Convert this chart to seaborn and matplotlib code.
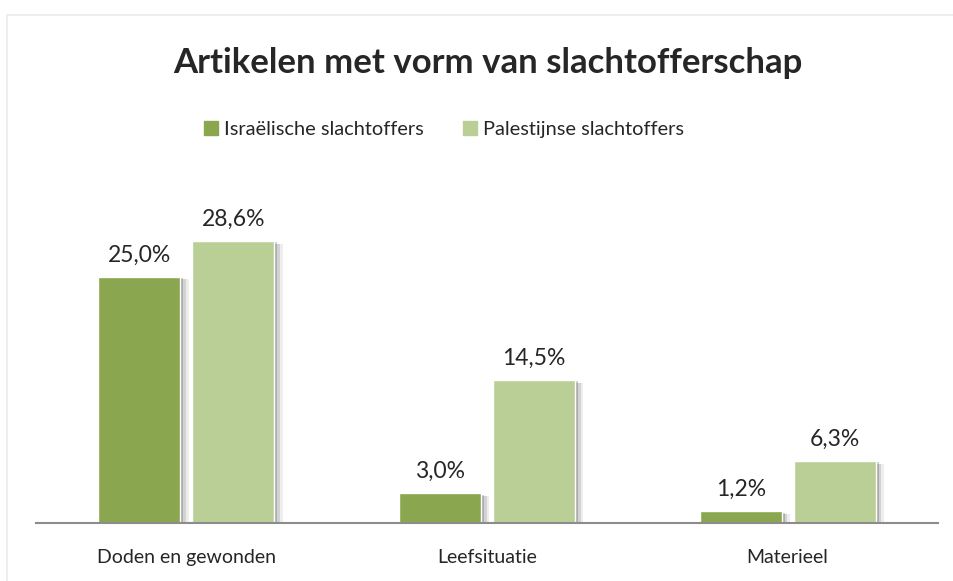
import matplotlib
matplotlib.use("Agg")
import matplotlib.pyplot as plt
import matplotlib.patheffects as pe
from matplotlib.patches import Rectangle
import pandas as pd
import seaborn as sns

# Data
categories = ["Doden en gewonden", "Leefsituatie", "Materieel"]
series_names = ["Israëlische slachtoffers", "Palestijnse slachtoffers"]
israeli_values = [25.0, 3.0, 1.2]
palestinian_values = [28.6, 14.5, 6.3]
colors = ["#8AA64E", "#BACF96"]

df = pd.DataFrame({
    "categorie": categories * 2,
    "groep": [series_names[0]] * 3 + [series_names[1]] * 3,
    "waarde": israeli_values + palestinian_values,
})

sns.set_style("white")
plt.rcParams["font.family"] = ["Lato", "DejaVu Sans"]

fig = plt.figure(figsize=(9.54, 5.81), dpi=100)
W, H = 954, 581
ax = fig.add_axes([36 / W, 1 - 523 / H, (938 - 36) / W, (523 - 178) / H])

sns.barplot(data=df, x="categorie", y="waarde", hue="groep",
            palette=colors, width=0.625, gap=0.125, ax=ax,
            saturation=1, errorbar=None, legend=False)

# soft shadow to the right of each bar
for bar in ax.patches:
    bar.set_path_effects([
        pe.SimplePatchShadow(offset=(6, -2), shadow_rgbFace="#777777", alpha=0.12),
        pe.SimplePatchShadow(offset=(4, -2), shadow_rgbFace="#666666", alpha=0.2),
        pe.SimplePatchShadow(offset=(2, -1), shadow_rgbFace="#555555", alpha=0.3),
        pe.Normal(),
    ])

for container in ax.containers:
    labels = [f"{v:.1f}".replace(".", ",") + "%" for v in container.datavalues]
    ax.bar_label(container, labels=labels, padding=8, fontsize=16.5)

ax.set_ylim(0, 35)
ax.set_xlim(-0.5, 2.5)
ax.set_xlabel("")
ax.set_ylabel("")
ax.set_yticks([])
ax.tick_params(axis="x", length=0, labelsize=14, pad=19)
for side in ["top", "right", "left"]:
    ax.spines[side].set_visible(False)
ax.spines["bottom"].set_color("#8C8C8C")
ax.spines["bottom"].set_linewidth(1.5)

fig.text(488 / W, 1 - 63 / H, "Artikelen met vorm van slachtofferschap",
         ha="center", va="center", fontsize=25, fontweight="bold")

handles = [Rectangle((0, 0), 1, 1, color=c) for c in colors]
fig.legend(handles, series_names, loc="center", bbox_to_anchor=(444 / W, 1 - 129 / H),
           ncol=2, frameon=False, fontsize=14.4, handlelength=0.7, handleheight=0.7,
           handletextpad=0.3, columnspacing=2.0)

# light chart-area border
fig.add_artist(Rectangle((7 / W, -0.01), 1.1, 1 - 15 / H + 0.01,
                         transform=fig.transFigure, fill=False,
                         edgecolor="#EEEEEE", linewidth=1.5))

fig.savefig("out.png", dpi=100)
